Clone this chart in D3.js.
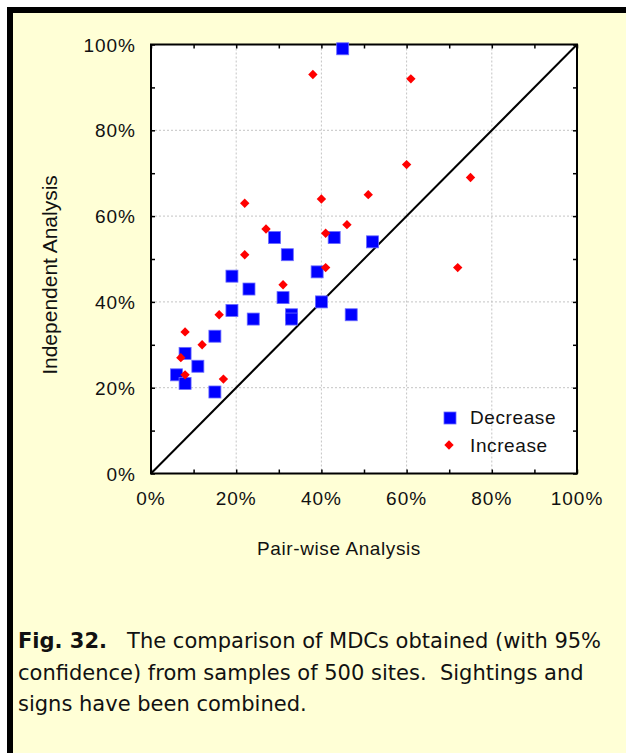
<!DOCTYPE html>
<html>
<head>
<meta charset="utf-8">
<script src="https://cdn.jsdelivr.net/npm/d3@7"></script>
<style>
  html, body { margin: 0; padding: 0; background: #ffffff; }
  svg { display: block; }
</style>
</head>
<body>
<script>
// MDC pairs (pair-wise %, independent %) for each group
const decreaseX = [45, 29, 43, 52, 32, 39, 19, 23, 31, 40, 19, 24, 33, 33, 47, 15, 8, 11, 6, 8, 15];
const decreaseY = [99, 55, 55, 54, 51, 47, 46, 43, 41, 40, 38, 36, 37, 36, 37, 32, 28, 25, 23, 21, 19];
const increaseX = [38, 61, 60, 75, 22, 40, 51, 27, 46, 41, 22, 72, 41, 31, 16, 8, 12, 7, 8, 17];
const increaseY = [93, 92, 72, 69, 63, 64, 65, 57, 58, 56, 51, 48, 48, 44, 37, 33, 30, 27, 23, 22];

const gridTicks = [0, 20, 40, 60, 80, 100];
const minorTicks = [0, 10, 20, 30, 40, 50, 60, 70, 80, 90, 100];
const tickLabels = ["0%", "20%", "40%", "60%", "80%", "100%"];
const seriesNames = ["Decrease", "Increase"];
const captionLines = [
  [{ t: "Fig. 32.", b: true }, { t: "\u00a0\u00a0 The comparison of MDCs obtained (with 95%", b: false }],
  [{ t: "confidence) from samples of 500 sites.\u00a0 Sightings and", b: false }],
  [{ t: "signs have been combined.", b: false }]
];

const axisFont = "Liberation Sans, Arial, Helvetica, sans-serif";
const captionFont = "DejaVu Sans, Verdana, sans-serif";

const W = 626, H = 753;
const svg = d3.select("body").append("svg").attr("width", W).attr("height", H);

// panel: pale yellow with black rule on the left and top
svg.append("rect").attr("x", 7).attr("y", 7).attr("width", W - 7).attr("height", H - 7).attr("fill", "#ffffd6");
svg.append("rect").attr("x", 7).attr("y", 7).attr("width", 6).attr("height", H - 7).attr("fill", "#000");
svg.append("rect").attr("x", 7).attr("y", 7).attr("width", W - 7).attr("height", 6).attr("fill", "#000");

const plot = { left: 151, right: 577, top: 44.5, bottom: 473.5 };
const x = d3.scaleLinear().domain([0, 100]).range([plot.left, plot.right]);
const y = d3.scaleLinear().domain([0, 100]).range([plot.bottom, plot.top]);

const g = svg.append("g");
g.append("rect").attr("x", plot.left).attr("y", plot.top)
  .attr("width", plot.right - plot.left).attr("height", plot.bottom - plot.top).attr("fill", "#fff");

// dotted grid at 20% steps
g.append("g").selectAll("line").data(gridTicks.slice(1, -1)).join("line")
  .attr("x1", d => x(d)).attr("x2", d => x(d)).attr("y1", plot.top).attr("y2", plot.bottom)
  .attr("stroke", "#c4c4c4").attr("stroke-width", 1).attr("stroke-dasharray", "2,2");
g.append("g").selectAll("line").data(gridTicks.slice(1, -1)).join("line")
  .attr("y1", d => y(d)).attr("y2", d => y(d)).attr("x1", plot.left).attr("x2", plot.right)
  .attr("stroke", "#c4c4c4").attr("stroke-width", 1).attr("stroke-dasharray", "2,2");

// inward ticks on all four sides
const tickLen = 4;
const axisBottom = d3.axisBottom(x).tickValues(minorTicks).tickSize(-tickLen).tickFormat("");
const axisTop = d3.axisTop(x).tickValues(minorTicks).tickSize(-tickLen).tickFormat("");
const axisLeft = d3.axisLeft(y).tickValues(minorTicks).tickSize(-tickLen).tickFormat("");
const axisRight = d3.axisRight(y).tickValues(minorTicks).tickSize(-tickLen).tickFormat("");
function styleAxis(sel) {
  sel.select(".domain").remove();
  sel.selectAll(".tick line").attr("stroke", "#000").attr("stroke-width", 1.5);
}
g.append("g").attr("transform", `translate(0,${plot.bottom})`).call(axisBottom).call(styleAxis);
g.append("g").attr("transform", `translate(0,${plot.top})`).call(axisTop).call(styleAxis);
g.append("g").attr("transform", `translate(${plot.left},0)`).call(axisLeft).call(styleAxis);
g.append("g").attr("transform", `translate(${plot.right},0)`).call(axisRight).call(styleAxis);

// frame
g.append("rect").attr("x", plot.left).attr("y", plot.top)
  .attr("width", plot.right - plot.left).attr("height", plot.bottom - plot.top)
  .attr("fill", "none").attr("stroke", "#000").attr("stroke-width", 2);

// tick labels
svg.append("g").selectAll("text").data(gridTicks).join("text")
  .attr("font-family", axisFont).attr("fill", "#111")
  .attr("x", d => x(d)).attr("y", 505)
  .attr("text-anchor", "middle").attr("font-size", 19).attr("letter-spacing", 1)
  .text((d, i) => tickLabels[i]);
svg.append("g").selectAll("text").data(gridTicks).join("text")
  .attr("font-family", axisFont).attr("fill", "#111")
  .attr("x", 136).attr("y", d => y(d) + 7)
  .attr("text-anchor", "end").attr("font-size", 19).attr("letter-spacing", 1)
  .text((d, i) => tickLabels[i]);

// axis titles
svg.append("text").attr("font-family", axisFont).attr("fill", "#111")
  .attr("x", 339).attr("y", 555)
  .attr("text-anchor", "middle").attr("font-size", 19).attr("letter-spacing", 0.6)
  .text("Pair-wise Analysis");
svg.append("text").attr("font-family", axisFont).attr("fill", "#111")
  .attr("transform", "translate(57,275) rotate(-90)")
  .attr("text-anchor", "middle").attr("font-size", 21)
  .text("Independent Analysis");

// identity line
g.append("line").attr("x1", x(0)).attr("y1", y(0)).attr("x2", x(100)).attr("y2", y(100))
  .attr("stroke", "#000").attr("stroke-width", 2);

// points
const dec = d3.zip(decreaseX, decreaseY);
const inc = d3.zip(increaseX, increaseY);
const sq = 12;
g.append("g").selectAll("rect").data(dec).join("rect")
  .attr("x", d => x(d[0]) - sq / 2).attr("y", d => y(d[1]) - sq / 2)
  .attr("width", sq).attr("height", sq)
  .attr("fill", "#0000ff").attr("stroke", "#6a6aff").attr("stroke-width", 0.8);
const diamond = d3.symbol().type(d3.symbolSquare).size(44);
g.append("g").selectAll("path").data(inc).join("path")
  .attr("d", diamond)
  .attr("transform", d => `translate(${x(d[0])},${y(d[1])}) rotate(45)`)
  .attr("fill", "#ff0000");

// legend
const leg = svg.append("g");
leg.append("rect").attr("x", 450 - sq / 2).attr("y", 418 - sq / 2).attr("width", sq).attr("height", sq)
  .attr("fill", "#0000ff").attr("stroke", "#6a6aff").attr("stroke-width", 0.8);
leg.append("path").attr("d", diamond).attr("transform", "translate(449,445) rotate(45)").attr("fill", "#ff0000");
leg.selectAll("text").data(seriesNames).join("text")
  .attr("font-family", axisFont).attr("fill", "#111")
  .attr("x", 470).attr("y", (d, i) => 424 + i * 28)
  .attr("font-size", 19).attr("letter-spacing", 0.6)
  .text(d => d);

// caption
const cap = svg.append("g");
captionLines.forEach((line, i) => {
  const t = cap.append("text").attr("font-family", captionFont).attr("font-size", 21)
    .attr("fill", "#111").attr("x", 18).attr("y", 648 + i * 31.5);
  line.forEach(seg => t.append("tspan").attr("font-weight", seg.b ? "bold" : "normal").text(seg.t));
});
</script>
</body>
</html>
